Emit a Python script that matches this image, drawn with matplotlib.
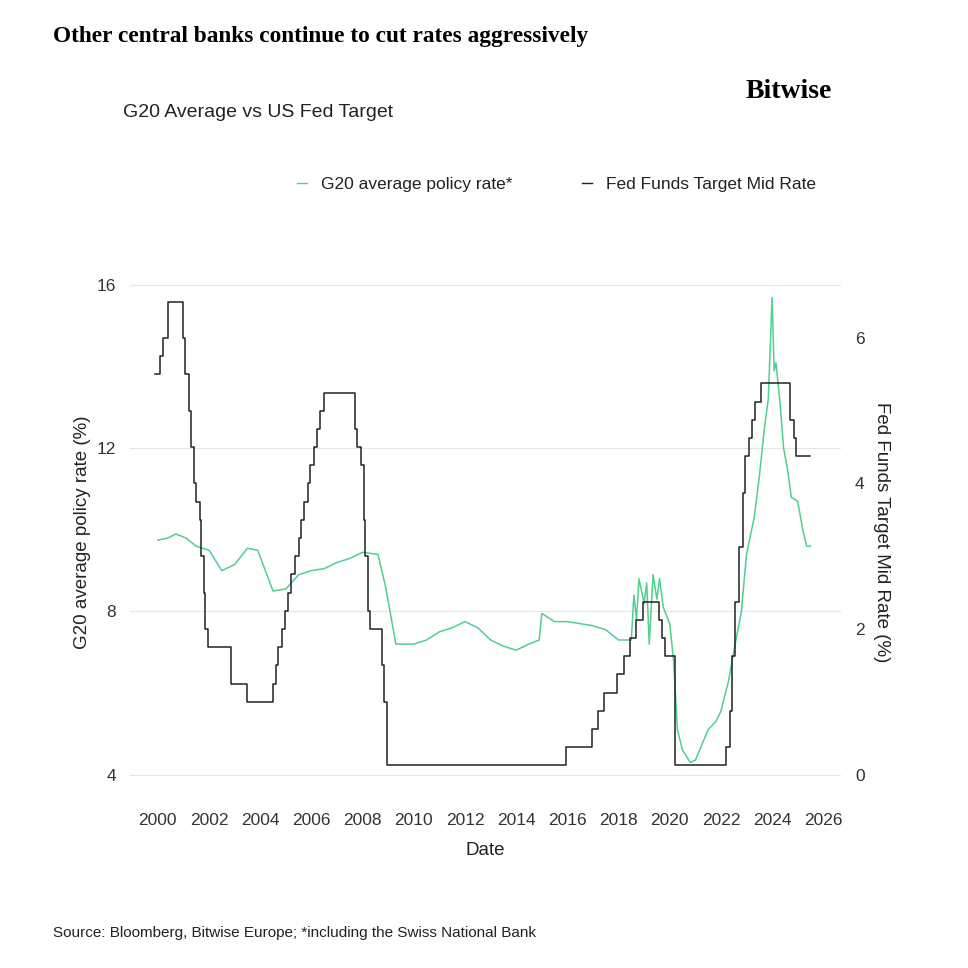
import matplotlib
matplotlib.use("Agg")
import matplotlib.pyplot as plt
plt.rcParams['font.family'] = ['Liberation Sans', 'DejaVu Sans']

fed_dates = [1999.9,2000.1,2000.2,2000.4,2001.0,2001.05,2001.2,2001.3,2001.4,2001.5,2001.65,2001.7,2001.8,2001.85,2001.95,2002.85,2003.5,
 2004.5,2004.6,2004.7,2004.85,2004.95,2005.1,2005.2,2005.35,2005.5,2005.6,2005.7,2005.85,2005.95,2006.1,2006.2,2006.35,2006.5,
 2007.7,2007.8,2007.95,2008.05,2008.08,2008.2,2008.3,2008.77,2008.82,2008.95,
 2015.95,2016.95,2017.2,2017.45,2017.95,2018.2,2018.45,2018.7,2018.95,2019.58,2019.7,2019.8,2020.2,
 2022.2,2022.35,2022.45,2022.55,2022.7,2022.85,2022.95,2023.1,2023.2,2023.35,2023.55,2024.7,2024.85,2024.95,2025.5]
fed_vals = [5.5,5.75,6.0,6.5,6.0,5.5,5.0,4.5,4.0,3.75,3.5,3.0,2.5,2.0,1.75,1.25,1.0,
 1.25,1.5,1.75,2.0,2.25,2.5,2.75,3.0,3.25,3.5,3.75,4.0,4.25,4.5,4.75,5.0,5.25,
 4.75,4.5,4.25,3.5,3.0,2.25,2.0,1.5,1.0,0.125,
 0.375,0.625,0.875,1.125,1.375,1.625,1.875,2.125,2.375,2.125,1.875,1.625,0.125,
 0.375,0.875,1.625,2.375,3.125,3.875,4.375,4.625,4.875,5.125,5.375,4.875,4.625,4.375,4.375]

g20_dates = [2000.0,2000.4,2000.7,2001.1,2001.5,2002.0,2002.5,2003.0,2003.5,2003.9,2004.2,2004.5,2005.0,2005.5,2006.0,2006.5,2007.0,2007.5,2008.0,2008.6,
 2008.9,2009.1,2009.3,2010.0,2010.5,2011.0,2011.5,2012.0,2012.5,2013.0,2013.5,2014.0,2014.5,2014.9,2015.0,2015.5,2016.0,2016.5,2017.0,2017.5,2018.0,2018.5,
 2018.6,2018.7,2018.8,2019.0,2019.1,2019.2,2019.35,2019.5,2019.6,2019.75,2020.0,2020.15,2020.3,2020.5,2020.8,2021.0,2021.3,2021.5,2021.8,2022.0,2022.3,2022.5,2022.8,
 2023.0,2023.3,2023.5,2023.7,2023.85,2024.0,2024.08,2024.15,2024.3,2024.45,2024.6,2024.75,2025.0,2025.2,2025.35,2025.5]
g20_vals = [9.75,9.8,9.9,9.8,9.6,9.5,9.0,9.15,9.55,9.5,9.0,8.5,8.55,8.9,9.0,9.05,9.2,9.3,9.45,9.4,
 8.6,7.9,7.2,7.2,7.3,7.5,7.6,7.75,7.6,7.3,7.15,7.05,7.2,7.3,7.95,7.75,7.75,7.7,7.65,7.55,7.3,7.3,
 8.4,7.8,8.8,8.2,8.7,7.2,8.9,8.3,8.8,8.1,7.7,6.8,5.1,4.6,4.3,4.35,4.8,5.1,5.3,5.55,6.3,7.0,8.0,
 9.4,10.3,11.3,12.5,13.2,15.7,13.9,14.1,13.2,12.0,11.5,10.8,10.7,10.0,9.6,9.6]

green = "#4fd08e"
fig = plt.figure(figsize=(9.68, 9.68), dpi=100)
ax = fig.add_axes([0.134, 0.183, 0.735, 0.535])
ax.plot(g20_dates, g20_vals, color=green, lw=1.1)
ax.set_ylim(3.6, 16.3)
ax.set_xlim(1998.9, 2026.7)
ax.set_yticks([4, 8, 12, 16])
ax.set_xticks(range(2000, 2027, 2))
ax.grid(axis="y", color="#e6e6e6", lw=0.8)
ax.set_axisbelow(True)
ax2 = ax.twinx()
ax2.step(fed_dates, fed_vals, where="post", color="#222222", lw=1.1)
lo, hi = ax.get_ylim()
ax2.set_ylim((lo - 4) * 41.75 / 74.5, (hi - 4) * 41.75 / 74.5)
ax2.set_yticks([0, 2, 4, 6])
for a in (ax, ax2):
    for s in a.spines.values():
        s.set_visible(False)
    a.tick_params(length=0, labelsize=12.5, colors="#333333", pad=10)
ax.tick_params(axis="x", pad=16)
ax.set_ylabel("G20 average policy rate (%)", fontsize=13.5, color="#222")
ax2.set_ylabel("Fed Funds Target Mid Rate (%)", fontsize=13.5, rotation=270, labelpad=18, color="#222")
ax.set_xlabel("Date", fontsize=13.5, color="#222", labelpad=10)

fig.text(0.055, 0.962, "Other central banks continue to cut rates aggressively", fontsize=16.8,
         fontweight="bold", family="Liberation Serif", va="center")
fig.text(0.77, 0.905, "Bitwise", fontsize=20, family="Liberation Serif", fontweight="bold", va="center")
fig.text(0.127, 0.884, "G20 Average vs US Fed Target", fontsize=14, va="center", color="#222")
fig.legend(handles=[plt.Line2D([], [], color=green, lw=1), plt.Line2D([], [], color="#222", lw=1)],
           labels=["G20 average policy rate*", "Fed Funds Target Mid Rate"],
           loc="center", bbox_to_anchor=(0.575, 0.809), ncol=2, frameon=False, fontsize=12.5,
           handlelength=0.6, columnspacing=4, labelcolor="#222")
fig.text(0.055, 0.036, "Source: Bloomberg, Bitwise Europe; *including the Swiss National Bank", fontsize=11, va="center", color="#222")
fig.savefig("out.png")
